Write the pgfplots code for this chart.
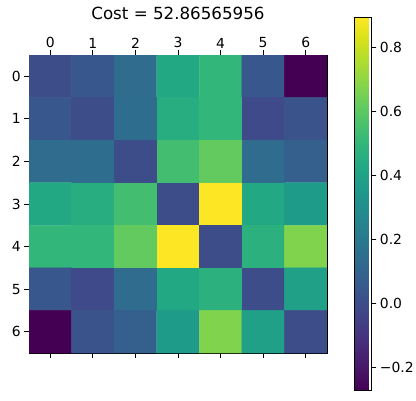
\documentclass[border=0pt]{standalone}
\usepackage{pgfplots}
\pgfplotsset{compat=1.18}
\usepackage{fontspec}
\setmainfont{DejaVu Sans}
\pgfplotstableread{
x y c
0 0 0
1 0 0.043
2 0 0.136
3 0 0.428
4 0 0.497
5 0 0.043
6 0 -0.272
0 1 0.043
1 1 0
2 1 0.14
3 1 0.451
4 1 0.497
5 1 -0.012
6 1 0.025
0 2 0.136
1 2 0.14
2 2 0
3 2 0.544
4 2 0.614
5 2 0.136
6 2 0.075
0 3 0.428
1 3 0.451
2 3 0.544
3 3 0
4 3 0.894
5 3 0.428
6 3 0.369
0 4 0.497
1 4 0.497
2 4 0.614
3 4 0.894
4 4 0
5 4 0.474
6 4 0.672
0 5 0.043
1 5 -0.012
2 5 0.136
3 5 0.428
4 5 0.474
5 5 0
6 5 0.393
0 6 -0.272
1 6 0.025
2 6 0.075
3 6 0.369
4 6 0.672
5 6 0.393
6 6 0
}\datatable
\begin{document}
\begin{tikzpicture}
\useasboundingbox (0,0) rectangle (416pt,400pt);
\begin{axis}[
  at={(29pt,47pt)}, anchor=south west,
  width=298pt, height=298pt, scale only axis,
  xmin=-0.5, xmax=6.5, ymin=-0.5, ymax=6.5, y dir=reverse,
  xtick={0,...,6}, ytick={0,...,6},
  xticklabel pos=right, xtick pos=both, ytick pos=left,
  tick align=outside, major tick length=4.86pt,
  tick style={black, line width=0.8pt},
  axis line style={line width=0.8pt},
  ticklabel style={font=\fontsize{13.9}{16}\selectfont},
  xticklabel style={yshift=-1.5pt},
  /pgf/number format/assume math mode=true,
  colormap/viridis, point meta min=-0.272, point meta max=0.894,
  title={Cost = 52.86565956},
  title style={font=\fontsize{16.7}{20}\selectfont, at={(0.5,1)}, anchor=base, yshift=30pt},
  colorbar,
  colorbar style={
    at={(parent axis.south east)}, anchor=south west,
    xshift=19pt, yshift=-37pt,
    width=17pt, height=373pt, scale only axis,
    ytick={-0.2,0,0.2,0.4,0.6,0.8},
    yticklabels={−0.2,0.0,0.2,0.4,0.6,0.8},
    ytick pos=right, yticklabel pos=right,
    tick align=outside, major tick length=4.86pt,
    tick style={black, line width=0.8pt},
    axis line style={line width=0.8pt},
    ticklabel style={font=\fontsize{13.9}{16}\selectfont},
  },
]
\addplot[matrix plot*, mesh/cols=7, point meta=explicit] table[x=x, y=y, meta=c] {\datatable};
\end{axis}
\end{tikzpicture}
\end{document}
